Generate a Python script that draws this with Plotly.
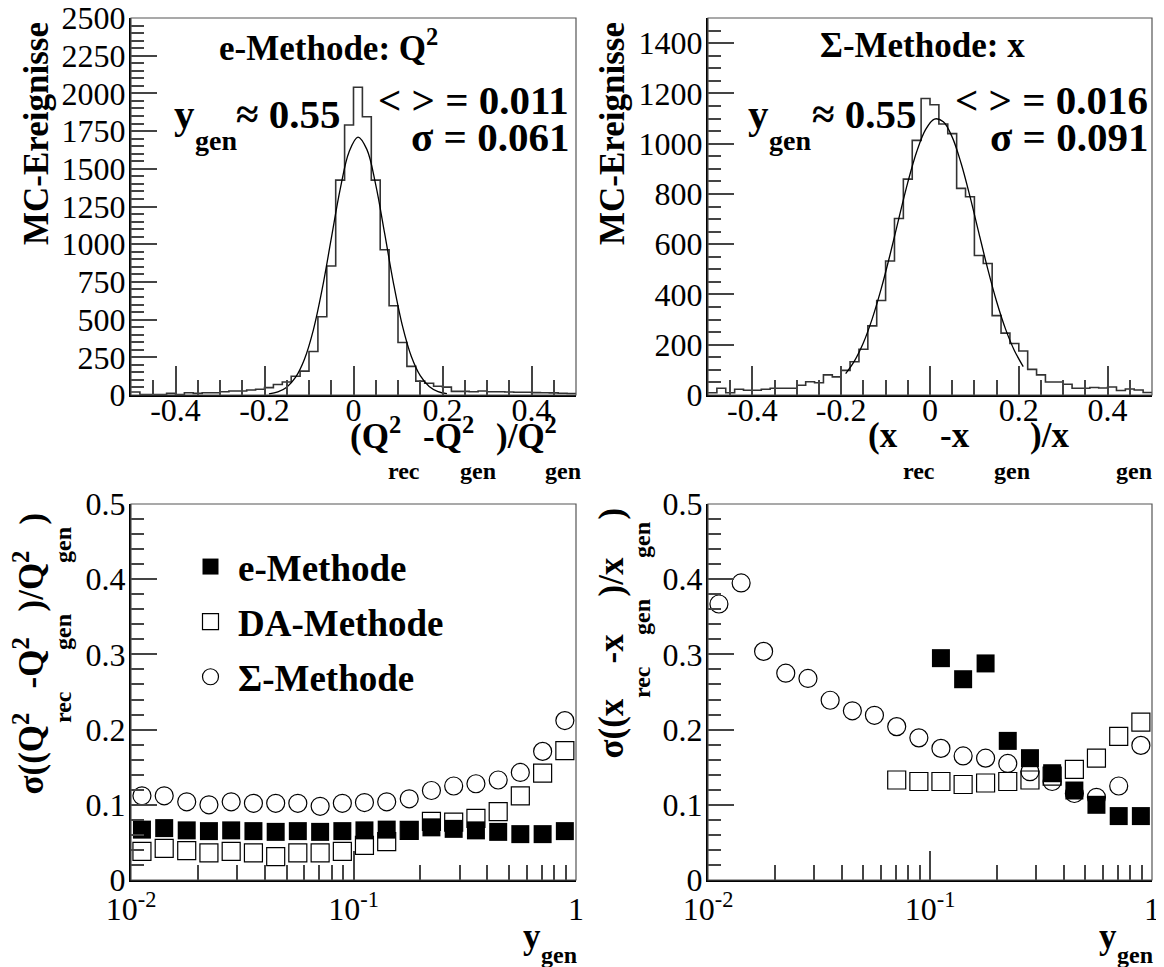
import plotly.graph_objects as go

W, H = 1164, 967          # screenshot size
OFF = 8                    # default body margin of the html page
WF, HF = W - OFF, H - OFF  # figure size so that the page fits the window
SERIF = "Liberation Serif"
TICKC = "#444444"

# ---------------- data ----------------
hist_xmin, hist_xmax, hist_nbins = -0.5, 0.5, 50

# top-left: e-Methode, (Q2_rec - Q2_gen)/Q2_gen
counts_q2 = [20, 3, 3, 3, 11, 3, 15, 11, 15, 15,
             22, 27, 27, 33, 38, 49, 70, 86, 124, 158,
             288, 519, 855, 1425, 1790, 2041, 1845, 1425, 963, 592,
             348, 190, 92, 78, 58, 52, 24, 24, 22, 27,
             22, 22, 20, 18, 18, 16, 15, 14, 12, 10]
fit_q2_x = [-0.19, -0.17, -0.15, -0.13, -0.11, -0.09, -0.07, -0.05, -0.03, -0.01, 0.01,
            0.03, 0.05, 0.07, 0.09, 0.11, 0.13, 0.15, 0.17, 0.19, 0.21]
fit_q2_y = [7.5, 21, 52, 118, 239, 434, 708, 1037, 1364, 1612, 1710,
            1629, 1393, 1071, 739, 458, 255, 128, 57, 23, 8.4]

# top-right: Sigma-Methode, (x_rec - x_gen)/x_gen
counts_x = [9, 27, 9, 23, 19, 19, 23, 27, 27, 27,
            39, 53, 49, 80, 72, 98, 132, 182, 275, 376,
            533, 702, 859, 1013, 1180, 1155, 1078, 1040, 822, 789,
            555, 523, 316, 246, 205, 175, 102, 80, 52, 52,
            43, 27, 27, 30, 28, 32, 18, 24, 20, 10]
fit_x_x = [-0.19, -0.17, -0.15, -0.13, -0.11, -0.09, -0.07, -0.05, -0.03, -0.01, 0.01,
           0.03, 0.05, 0.07, 0.09, 0.11, 0.13, 0.15, 0.17, 0.19, 0.21]
fit_x_y = [85, 136, 208, 304, 422, 558, 704, 846, 968, 1056, 1098,
           1087, 1026, 922, 790, 645, 502, 372, 263, 177, 113]

# bottom panels: resolution vs y_gen
ygen = [0.0112, 0.0141, 0.0178, 0.0224, 0.0282, 0.0355, 0.0447, 0.0562, 0.0708, 0.0891,
        0.112, 0.141, 0.178, 0.224, 0.282, 0.355, 0.447, 0.562, 0.708, 0.891]
q2_e = [0.067, 0.069, 0.066, 0.065, 0.066, 0.065, 0.064, 0.065, 0.064, 0.065,
        0.066, 0.067, 0.066, 0.070, 0.068, 0.066, 0.064, 0.061, 0.061, 0.065]
q2_da = [0.038, 0.042, 0.039, 0.036, 0.038, 0.036, 0.031, 0.036, 0.036, 0.038,
         0.046, 0.051, 0.066, 0.078, 0.077, 0.082, 0.091, 0.112, 0.142, 0.172]
q2_sig = [0.112, 0.112, 0.104, 0.100, 0.104, 0.102, 0.102, 0.102, 0.098, 0.102,
          0.103, 0.104, 0.108, 0.119, 0.125, 0.128, 0.133, 0.143, 0.171, 0.212]
x_e = [None, None, None, None, None, None, None, None, None, None,
       0.295, 0.267, 0.288, 0.185, 0.162, 0.142, 0.119, 0.100, 0.085, 0.085]
x_da = [None, None, None, None, None, None, None, None, 0.133, 0.131,
        0.131, 0.127, 0.129, 0.131, 0.133, 0.138, 0.147, 0.162, 0.191, 0.210]
x_sig = [0.367, 0.395, 0.304, 0.275, 0.268, 0.239, 0.225, 0.219, 0.204, 0.189,
         0.175, 0.165, 0.162, 0.155, 0.144, 0.131, 0.115, 0.110, 0.125, 0.179]

hist_tickvals = [-0.4, -0.2, 0, 0.2, 0.4]
hist_ticktext = ["-0.4", "-0.2", "0", "0.2", "0.4"]
log_tickvals = [0.01, 0.1, 1]
log_ticktext = ["10<sup>-2</sup>", "10<sup>-1</sup>", "1"]
log_minorvals = [0.02, 0.03, 0.04, 0.05, 0.06, 0.07, 0.08, 0.09,
                 0.2, 0.3, 0.4, 0.5, 0.6, 0.7, 0.8, 0.9]

# ---------------- helpers (screen pixels -> paper) ----------------
def PX(p):
    return (p - OFF) / WF

def PY(p):
    return 1 - (p - OFF) / HF

# ---------------- figure ----------------
edges = [hist_xmin + i * (hist_xmax - hist_xmin) / hist_nbins for i in range(hist_nbins + 1)]

fig = go.Figure()

def add_hist(counts, fx, fy, xa, ya):
    fig.add_trace(go.Scatter(x=edges, y=counts + [counts[-1]], mode="lines",
                             line=dict(shape="hv", color="#333333", width=1.6),
                             xaxis=xa, yaxis=ya, showlegend=False, hoverinfo="skip"))
    fig.add_trace(go.Scatter(x=fx, y=fy, mode="lines",
                             line=dict(shape="spline", color="black", width=1.3),
                             xaxis=xa, yaxis=ya, showlegend=False, hoverinfo="skip"))

add_hist(counts_q2, fit_q2_x, fit_q2_y, "x", "y")
add_hist(counts_x, fit_x_x, fit_x_y, "x2", "y2")

MS = 18
def add_points(xa, ya, e, da, sg, legend):
    fig.add_trace(go.Scatter(x=ygen, y=sg, mode="markers", name="Σ-Methode",
                             marker=dict(symbol="circle-open", size=MS, color="black",
                                         line=dict(width=1.2, color="black")),
                             xaxis=xa, yaxis=ya, showlegend=legend, legendrank=3,
                             legendgroup="c"))
    fig.add_trace(go.Scatter(x=ygen, y=da, mode="markers", name="DA-Methode",
                             marker=dict(symbol="square-open", size=MS, color="black",
                                         line=dict(width=1.2, color="black")),
                             xaxis=xa, yaxis=ya, showlegend=legend, legendrank=2,
                             legendgroup="b"))
    fig.add_trace(go.Scatter(x=ygen, y=e, mode="markers", name="e-Methode",
                             marker=dict(symbol="square", size=MS, color="black",
                                         line=dict(width=0)),
                             xaxis=xa, yaxis=ya, showlegend=legend, legendrank=1,
                             legendgroup="a"))

add_points("x3", "y3", q2_e, q2_da, q2_sig, True)
add_points("x4", "y4", x_e, x_da, x_sig, False)

TICKFONT = dict(family=SERIF, size=32, color="black")

def base_axis(**kw):
    d = dict(ticks="inside", tickwidth=1.5, tickcolor=TICKC, showline=True,
             linecolor="black", linewidth=2, showgrid=False, zeroline=False,
             tickfont=TICKFONT, automargin=False, ticklabeloverflow="allow")
    d.update(kw)
    return d

L1, R1, L2, R2 = 131, 576, 708, 1152
T1, B1, T2, B2 = 18, 395, 504, 880

def dom_x(a, b):
    return [PX(a), PX(b)]

def dom_y(top, bot):
    return [PY(bot), PY(top)]

def hist_x(d, anc):
    return base_axis(domain=d, anchor=anc, range=[hist_xmin, hist_xmax],
                     tickmode="array", tickvals=hist_tickvals, ticktext=hist_ticktext,
                     ticklen=29, ticklabelstandoff=-14,
                     minor=dict(tickmode="linear", tick0=0, dtick=0.05, ticks="inside",
                                ticklen=15, tickwidth=1.5, tickcolor=TICKC, showgrid=False))

def log_x(d, anc):
    return base_axis(domain=d, anchor=anc, type="log", range=[-2, 0],
                     tickmode="array", tickvals=log_tickvals, ticktext=log_ticktext,
                     ticklen=29,
                     minor=dict(tickmode="array", tickvals=log_minorvals, ticks="inside",
                                ticklen=15, tickwidth=1.5, tickcolor=TICKC, showgrid=False))

def lin_y(d, anc, top, dt, mdt, fmt=None):
    kw = dict(domain=d, anchor=anc, range=[0, top], tickmode="linear", tick0=0, dtick=dt,
              ticklen=26, ticklabelstandoff=-3,
              minor=dict(tickmode="linear", tick0=0, dtick=mdt, ticks="inside", ticklen=13,
                         tickwidth=1.5, tickcolor=TICKC, showgrid=False))
    if fmt:
        kw["tickformat"] = fmt
    return base_axis(**kw)

fig.update_layout(
    width=WF, height=HF,
    margin=dict(l=0, r=0, t=0, b=0, pad=0, autoexpand=False),
    paper_bgcolor="white", plot_bgcolor="white",
    showlegend=True,
    xaxis=hist_x(dom_x(L1, R1), "y"),
    xaxis2=hist_x(dom_x(L2, R2), "y2"),
    xaxis3=log_x(dom_x(L1, R1), "y3"),
    xaxis4=log_x(dom_x(L2, R2), "y4"),
    yaxis=lin_y(dom_y(T1, B1), "x", 2500, 250, 50, "d"),
    yaxis2=lin_y(dom_y(T1, B1), "x2", 1500, 200, 50, "d"),
    yaxis3=lin_y(dom_y(T2, B2), "x3", 0.5, 0.1, 0.02),
    yaxis4=lin_y(dom_y(T2, B2), "x4", 0.5, 0.1, 0.02),
    legend=dict(x=PX(183), y=PY(536), xanchor="left", yanchor="top",
                bgcolor="rgba(0,0,0,0)", borderwidth=0, traceorder="grouped",
                tracegroupgap=4, itemsizing="trace", itemwidth=45,
                font=dict(family=SERIF, size=37, color="black", weight="bold")),
)

# frames
for xa, ya in [("x", "y"), ("x2", "y2"), ("x3", "y3"), ("x4", "y4")]:
    fig.add_shape(type="rect", xref=xa + " domain", yref=ya + " domain", x0=0, x1=1, y0=0, y1=1,
                  line=dict(color="#555555", width=1.2), layer="above")

def ann(text, x, y, size, xanchor="center", yanchor="middle", angle=0, bold=True):
    fig.add_annotation(text=text, x=PX(x), y=PY(y), xref="paper", yref="paper",
                       xanchor=xanchor, yanchor=yanchor, showarrow=False, textangle=angle,
                       font=dict(family=SERIF, size=size, color="black",
                                 weight="bold" if bold else "normal"))

BIG = 41
TIT = 35
SUB = 24
AX = 35

# ---- top-left texts ----
ann("e-Methode: Q<sup>2</sup>", 328, 46, TIT)
ann("y", 172, 114, BIG, xanchor="left")
ann("gen", 193, 141, 28, xanchor="left")
ann("≈ 0.55", 234, 114, BIG, xanchor="left")
ann("&lt; &gt; = 0.011", 571, 100, BIG, xanchor="right")
ann("σ = 0.061", 571, 137, BIG, xanchor="right")
ann("MC-Ereignisse", 36, 134, 35, angle=-90)
# axis title (baseline-aligned pieces)
ann("(Q<sup>2</sup>", 348, 458, AX, xanchor="left", yanchor="bottom")
ann("-Q<sup>2</sup>", 421, 458, AX, xanchor="left", yanchor="bottom")
ann(")/Q<sup>2</sup>", 494, 458, AX, xanchor="left", yanchor="bottom")
ann("rec", 386, 471, SUB, xanchor="left")
ann("gen", 458, 471, SUB, xanchor="left")
ann("gen", 543, 471, SUB, xanchor="left")

# ---- top-right texts ----
ann("Σ-Methode: x", 922, 46, TIT)
ann("y", 746, 114, BIG, xanchor="left")
ann("gen", 767, 141, 28, xanchor="left")
ann("≈ 0.55", 810, 114, BIG, xanchor="left")
ann("&lt; &gt; = 0.016", 1150, 100, BIG, xanchor="right")
ann("σ = 0.091", 1150, 137, BIG, xanchor="right")
ann("MC-Ereignisse", 612, 134, 35, angle=-90)
ann("(x", 866, 457, AX, xanchor="left", yanchor="bottom")
ann("-x", 938, 457, AX, xanchor="left", yanchor="bottom")
ann(")/x", 1028, 457, AX, xanchor="left", yanchor="bottom")
ann("rec", 901, 471, SUB, xanchor="left")
ann("gen", 992, 471, SUB, xanchor="left")
ann("gen", 1114, 471, SUB, xanchor="left")

# ---- bottom-left titles (rotated pieces, baseline aligned via right edge) ----
ann("σ((Q<sup>2</sup>", 53, 753, AX, xanchor="right", angle=-90)
ann("-Q<sup>2</sup>", 53, 663, AX, xanchor="right", angle=-90)
ann(")/Q<sup>2</sup>", 53, 581, AX, xanchor="right", angle=-90)
ann(")", 53, 519, AX, xanchor="right", angle=-90)
ann("rec", 63, 707, SUB, angle=-90)
ann("gen", 63, 632, SUB, angle=-90)
ann("gen", 63, 545, SUB, angle=-90)
ann("y", 521, 936, AX, xanchor="left")
ann("gen", 539, 955, SUB, xanchor="left")

# ---- bottom-right titles ----
ann("σ((x", 632, 729, AX, xanchor="right", angle=-90)
ann("-x", 632, 649, AX, xanchor="right", angle=-90)
ann(")/x", 632, 577, AX, xanchor="right", angle=-90)
ann(")", 632, 514, AX, xanchor="right", angle=-90)
ann("rec", 642, 682, SUB, angle=-90)
ann("gen", 642, 617, SUB, angle=-90)
ann("gen", 642, 540, SUB, angle=-90)
ann("y", 1097, 936, AX, xanchor="left")
ann("gen", 1115, 955, SUB, xanchor="left")

fig.write_html("out.html")
